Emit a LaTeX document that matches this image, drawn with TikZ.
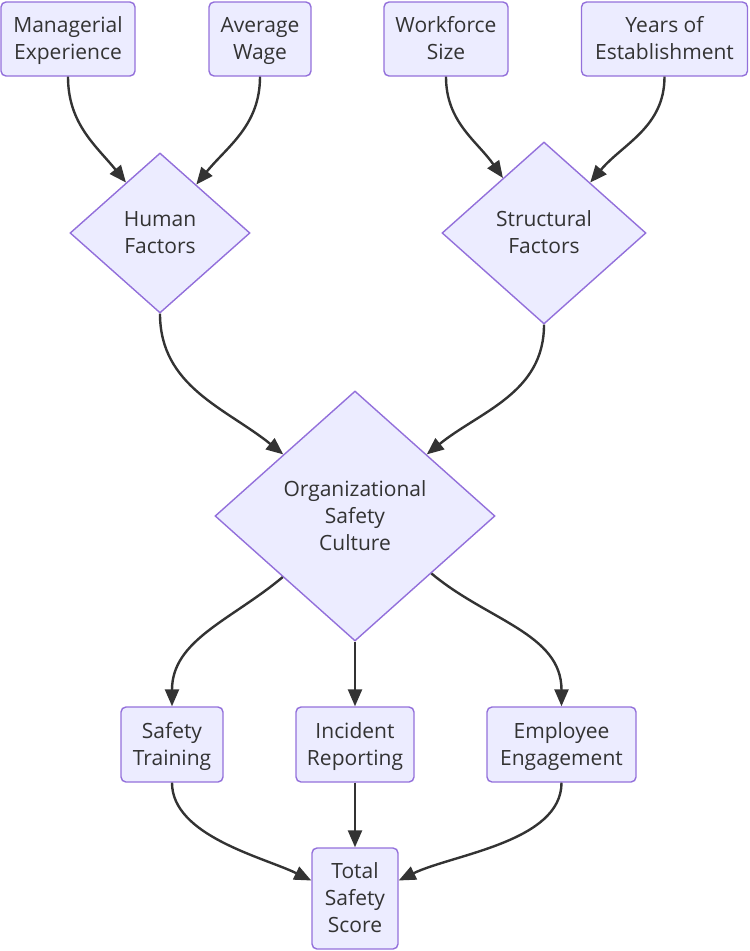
\documentclass[tikz,border=0pt]{standalone}
\usepackage{fontspec}
\setmainfont{Open Sans}
\usetikzlibrary{shapes.geometric,calc,arrows.meta}
\definecolor{nodefill}{HTML}{ECECFF}
\definecolor{nodeline}{HTML}{9370DB}
\definecolor{txt}{HTML}{333333}
\newcommand{\mystrut}{\rule[-6.3pt]{0pt}{27pt}}
\begin{document}
\begin{tikzpicture}[x=1pt,y=1pt,
  base/.style={fill=nodefill,draw=nodeline,line width=1.4pt,text=txt,align=center,inner sep=0pt,
    font=\fontsize{21}{27}\selectfont},
  box/.style={base,rectangle,rounded corners=5pt},
  dia/.style={base,diamond},
  edge/.style={draw=txt,line width=2.4pt,-{Triangle[length=17pt,width=14pt]}}]
\useasboundingbox (0,0) rectangle (750,-951);
% top row
\node[box,minimum width=134pt,minimum height=74pt] (mgr) at (68,-39) {\mystrut Managerial\\\mystrut Experience};
\node[box,minimum width=102pt,minimum height=74pt] (wage) at (260,-39) {\mystrut Average\\\mystrut Wage};
\node[box,minimum width=124pt,minimum height=74pt] (work) at (446,-39) {\mystrut Workforce\\\mystrut Size};
\node[box,minimum width=166pt,minimum height=74pt] (years) at (664.5,-39) {\mystrut Years of\\\mystrut Establishment};
% diamonds
\node[dia,minimum width=180pt,minimum height=160pt] (hf) at (160,-233) {\mystrut Human\\\mystrut Factors};
\node[dia,minimum width=204pt,minimum height=182pt] (sf) at (544,-233) {\mystrut Structural\\\mystrut Factors};
\node[dia,minimum width=280pt,minimum height=250pt] (org) at (355,-516) {\mystrut Organizational\\\mystrut Safety\\\mystrut Culture};
% bottom row
\node[box,minimum width=102pt,minimum height=75pt] (st) at (172,-744.5) {\mystrut Safety\\\mystrut Training};
\node[box,minimum width=118pt,minimum height=75pt] (ir) at (355,-744.5) {\mystrut Incident\\\mystrut Reporting};
\node[box,minimum width=149pt,minimum height=75pt] (ee) at (561.5,-744.5) {\mystrut Employee\\\mystrut Engagement};
\node[box,minimum width=86pt,minimum height=101pt] (tot) at (355,-898.5) {\mystrut Total\\\mystrut Safety\\\mystrut Score};
% edges
\draw[edge] (mgr.south) to[out=-90,in=129] ($(hf.north)!0.375!(hf.west)$);
\draw[edge] (wage.south) to[out=-90,in=51] ($(hf.north)!0.4!(hf.east)$);
\draw[edge] (work.south) to[out=-90,in=125] ($(sf.north)!0.4!(sf.west)$);
\draw[edge] (years.south) to[out=-90,in=50] ($(sf.north)!0.45!(sf.east)$);
\draw[edge] (hf.south) to[out=-90,in=141] ($(org.north)!0.51!(org.west)$);
\draw[edge] (sf.south) to[out=-90,in=39] ($(org.north)!0.51!(org.east)$);
\draw[edge] ($(org.west)!0.486!(org.south)$) to[out=-140,in=90] (st.north);
\draw[edge] (org.south) -- (ir.north);
\draw[edge] ($(org.east)!0.457!(org.south)$) to[out=-40,in=90] (ee.north);
\draw[edge] (st.south) to[out=-90,in=154,looseness=0.8] ($(tot.west)+(0,18)$);
\draw[edge] (ir.south) -- (tot.north);
\draw[edge] (ee.south) to[out=-90,in=26,looseness=0.8] ($(tot.east)+(0,18)$);
\end{tikzpicture}
\end{document}
